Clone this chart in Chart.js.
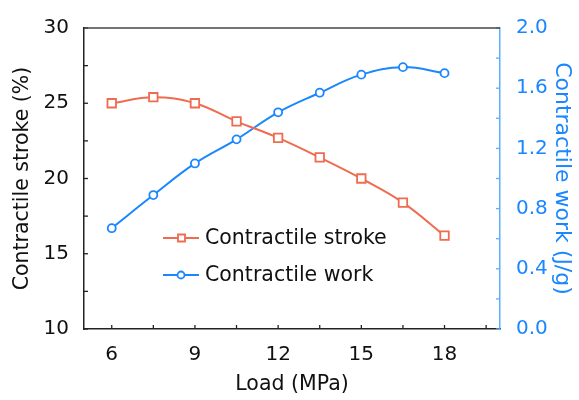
<!DOCTYPE html>
<html>
<head>
<meta charset="utf-8">
<script src="https://cdn.jsdelivr.net/npm/chart.js@4.4.1/dist/chart.umd.min.js"></script>
<style>
  html, body { margin: 0; padding: 0; background: #fff; }
  #wrap { width: 579px; height: 400px; }
</style>
</head>
<body>
<div id="wrap"><canvas id="load-chart"></canvas></div>
<script>
const loads = [6, 7.5, 9, 10.5, 12, 13.5, 15, 16.5, 18];
const strokeValues = [25.0, 25.4, 25.0, 23.8, 22.7, 21.4, 20.0, 18.4, 16.2];
const workValues = [0.67, 0.89, 1.10, 1.26, 1.44, 1.57, 1.69, 1.74, 1.70];

const xTicks = [6, 9, 12, 15, 18];
const xMinorTicks = [7.5, 10.5, 13.5, 16.5, 19.5];
const strokeTicks = [10, 15, 20, 25, 30];
const strokeMinorTicks = [12.5, 17.5, 22.5, 27.5];
const workTicks = [0, 0.4, 0.8, 1.2, 1.6, 2.0];
const workMinorTicks = [0.2, 0.6, 1.0, 1.4, 1.8];

const seriesNames = ["Contractile stroke", "Contractile work"];

const orange = "#EE6C50";
const blue = "#1A87FF";
const axisBlue = "#5DAEFF";
const dark = "#222";
const font = { family: "'DejaVu Sans', sans-serif", size: 20 };
const titleFont = { family: "'DejaVu Sans', sans-serif", size: 20.5 };
const rightTitleFont = { family: "'DejaVu Sans', sans-serif", size: 22 };

const pts = (vals) => loads.map((x, i) => ({ x: x, y: vals[i] }));

// small inward tick marks, top frame line and the in-plot legend
const decorations = {
  id: "decorations",
  afterDraw(chart) {
    const { ctx, chartArea: a, scales } = chart;
    ctx.save();
    ctx.lineWidth = 1.3;

    ctx.strokeStyle = dark;
    [...xTicks, ...xMinorTicks].forEach((v) => {
      const px = scales.x.getPixelForValue(v);
      ctx.beginPath();
      ctx.moveTo(px, a.bottom);
      ctx.lineTo(px, a.bottom - 4);
      ctx.stroke();
    });
    [...strokeTicks, ...strokeMinorTicks].forEach((v) => {
      const py = scales.y.getPixelForValue(v);
      ctx.beginPath();
      ctx.moveTo(a.left, py);
      ctx.lineTo(a.left + 4, py);
      ctx.stroke();
    });
    ctx.strokeStyle = axisBlue;
    [...workTicks, ...workMinorTicks].forEach((v) => {
      const py = scales.y1.getPixelForValue(v);
      ctx.beginPath();
      ctx.moveTo(a.right, py);
      ctx.lineTo(a.right - 4, py);
      ctx.stroke();
    });

    // top frame
    ctx.strokeStyle = "#444";
    ctx.lineWidth = 1.5;
    ctx.beginPath();
    ctx.moveTo(a.left, a.top);
    ctx.lineTo(a.right, a.top);
    ctx.stroke();

    // legend
    const lx = a.left + 79;
    const rows = [a.top + 210, a.top + 247];
    chart.data.datasets.forEach((ds, i) => {
      const y = rows[i];
      ctx.strokeStyle = ds.borderColor;
      ctx.lineWidth = 2;
      ctx.beginPath();
      ctx.moveTo(lx, y);
      ctx.lineTo(lx + 36, y);
      ctx.stroke();
      ctx.fillStyle = "#fff";
      ctx.lineWidth = 1.8;
      ctx.beginPath();
      if (ds.pointStyle === "rect") {
        ctx.rect(lx + 15, y - 3.5, 7, 7);
      } else {
        ctx.arc(lx + 18, y, 3.5, 0, Math.PI * 2);
      }
      ctx.fill();
      ctx.stroke();
      ctx.fillStyle = "#111";
      ctx.font = "20.5px " + font.family;
      ctx.textBaseline = "middle";
      ctx.fillText(ds.label, lx + 42, y + 1);
    });
    ctx.restore();
  },
};

new Chart(document.getElementById("load-chart"), {
  type: "line",
  data: {
    datasets: [
      {
        label: seriesNames[0],
        data: pts(strokeValues),
        yAxisID: "y",
        borderColor: orange,
        borderWidth: 2,
        tension: 0.4,
        pointStyle: "rect",
        pointRadius: 6,
        pointBorderWidth: 1.8,
        pointBackgroundColor: "#fff",
        pointBorderColor: orange,
      },
      {
        label: seriesNames[1],
        data: pts(workValues),
        yAxisID: "y1",
        borderColor: blue,
        borderWidth: 2,
        tension: 0.4,
        pointStyle: "circle",
        pointRadius: 4,
        pointBorderWidth: 1.8,
        pointBackgroundColor: "#fff",
        pointBorderColor: blue,
      },
    ],
  },
  options: {
    responsive: true,
    maintainAspectRatio: false,
    animation: false,
    layout: { padding: { top: 23, left: 0, right: 0, bottom: 0 } },
    plugins: { legend: { display: false }, tooltip: { enabled: false } },
    scales: {
      x: {
        type: "linear",
        min: 5,
        max: 20,
        afterBuildTicks: (s) => { s.ticks = xTicks.map((v) => ({ value: v })); },
        afterFit: (s) => { s.height = 71; },
        grid: { display: false, drawTicks: false },
        border: { color: dark, width: 1.5 },
        ticks: { font: font, color: "#111", padding: 14 },
        title: { display: true, text: "Load (MPa)", font: titleFont, color: "#111", padding: { top: 0, bottom: 3 } },
      },
      y: {
        position: "left",
        min: 10,
        max: 30,
        afterBuildTicks: (s) => { s.ticks = strokeTicks.map((v) => ({ value: v })); },
        afterFit: (s) => { s.width = 84; },
        grid: { display: false, drawTicks: false },
        border: { color: dark, width: 1.5 },
        ticks: { font: font, color: "#111", padding: 15 },
        title: { display: true, text: "Contractile stroke (%)", font: titleFont, color: "#111", padding: { top: 10, bottom: 0 } },
      },
      y1: {
        position: "right",
        min: 0,
        max: 2,
        afterBuildTicks: (s) => { s.ticks = workTicks.map((v) => ({ value: v })); },
        afterFit: (s) => { s.width = 79; },
        grid: { display: false, drawTicks: false },
        border: { color: axisBlue, width: 1.5 },
        ticks: { font: font, color: blue, padding: 16, callback: (v) => v.toFixed(1) },
        title: { display: true, text: "Contractile work (J/g)", font: rightTitleFont, color: blue, padding: { top: 4, bottom: 0 } },
      },
    },
  },
  plugins: [decorations],
});
</script>
</body>
</html>
